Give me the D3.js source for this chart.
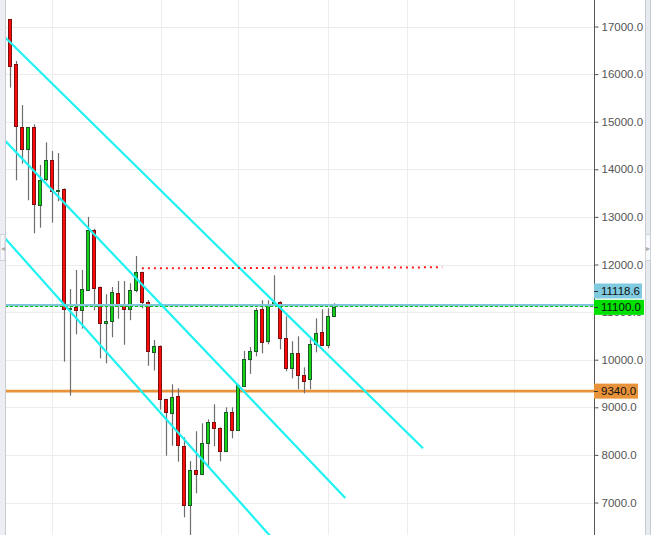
<!DOCTYPE html>
<html><head><meta charset="utf-8">
<script src="https://cdn.jsdelivr.net/npm/d3@7"></script>
<style>
html,body{margin:0;padding:0;background:#fff;}
svg{display:block;font-family:"Liberation Sans",Arial,sans-serif;}
</style></head>
<body>
<svg id="c" width="655" height="535"></svg>
<script>
// ---- data ----
const opens  = [17151,16206,14882,14420,14882,13244,13790,14189,13550,13580,11060,11101,11038,11460,12727,11521,10765,10807,11395,11143,11059,11458,11836,11206,10155,10281,9168,8874,9231,8181,6941,7676,7592,8244,8685,8559,8076,8895,8517,9441,10008,10176,11059,10387,11164,11206,10450,9819,10134,9672,9588,10324,10576,10303,10912];
const highs  = [17151,16275,15351,14882,14945,14090,14567,14384,14342,13600,11485,11885,11885,13000,12750,11540,11374,11527,11653,11653,11605,12178,11850,11254,10414,10300,9180,9483,9399,8370,7872,8496,8664,8748,9063,8580,9000,9000,9480,10183,10267,11086,11248,11248,11773,11227,10912,10387,10492,9840,10429,10870,11059,11080,11185];
const lows   = [15715,13769,14118,13349,12655,12773,13750,12878,13328,9958,9244,10534,10653,11460,11038,10029,9924,10471,10861,10315,10830,11416,11080,9874,9773,8950,7983,8193,7857,6689,6311,7193,7592,7740,8181,7866,8076,8349,8517,9441,9702,10071,10134,10324,11150,10218,9756,9609,9378,9294,9378,10155,10550,10240,10900];
const closes = [16177,14916,14420,14882,13265,13769,14189,13538,13570,11059,11080,11038,11479,12727,11500,10765,10813,11416,11143,11059,11458,11836,11206,10176,10281,9168,8895,9210,8202,6941,7676,7592,8244,8685,8559,8076,8895,8517,9462,10008,10176,11038,10366,11164,11206,10450,9819,10134,9672,9546,10324,10555,10303,10912,11101];

const yTicks = [7000,8000,9000,10000,11000,12000,13000,14000,15000,16000,17000];
const vGridIdx = [6.95,25.03,37.97,52.97,66.0,83.97];   // candle positions of the vertical grid lines

// channel lines: start/end as (candle index, price)
const trendX1 = [-1, -1, -1];
const trendP1 = [16783, 14613, 12565];
const trendX2 = [68.75, 55.8, 44.0];
const trendP2 = [8139, 7095, 6194];

// dotted resistance line
const dotX = [21.9, 71.97];
const dotP = [11920, 11941];

// price levels
const levelOrange = 9340.0;
const levelBlue = 11118.6;
const levelLast = 11100.0;

// ---- drawing ----
const svg = d3.select("#c");
const W = 655, H = 535;
const plotL = 5, plotR = 594;

const x = d3.scaleLinear().domain([0, 97]).range([10.5, 592.5]);
const y = d3.scaleLinear().domain([7000, 17000]).range([502.5, 26.5]);

svg.append("defs").append("clipPath").attr("id","clip")
  .append("rect").attr("x",plotL+1).attr("y",0).attr("width",plotR-plotL-1).attr("height",H);

const plot = svg.append("g").attr("clip-path","url(#clip)");

// grid
plot.selectAll("line.hg").data(yTicks).enter().append("line")
  .attr("x1",plotL).attr("x2",plotR)
  .attr("y1",d=>Math.round(y(d))+0.5).attr("y2",d=>Math.round(y(d))+0.5)
  .attr("stroke","#ececec").attr("stroke-width",1);
plot.selectAll("line.vg").data(vGridIdx).enter().append("line")
  .attr("x1",d=>Math.round(x(d))+0.5).attr("x2",d=>Math.round(x(d))+0.5)
  .attr("y1",0).attr("y2",H)
  .attr("stroke","#ececec").attr("stroke-width",1);

// orange level
plot.append("line").attr("x1",plotL).attr("x2",plotR)
  .attr("y1",y(levelOrange)).attr("y2",y(levelOrange))
  .attr("stroke","#e8923a").attr("stroke-width",2.7);

// candles
const idx = d3.range(opens.length);
const cg = plot.append("g");
cg.selectAll("line.wick").data(idx).enter().append("line")
  .attr("x1",i=>Math.floor(x(i))+0.5).attr("x2",i=>Math.floor(x(i))+0.5)
  .attr("y1",i=>y(highs[i])).attr("y2",i=>y(lows[i]))
  .attr("stroke","#6e6e6e").attr("stroke-width",1.2);
cg.selectAll("rect.body").data(idx).enter().append("rect")
  .attr("x",i=>Math.floor(x(i))-1.5)
  .attr("width",3)
  .attr("y",i=>Math.round(y(Math.max(opens[i],closes[i])))+0.5)
  .attr("height",i=>Math.max(1,Math.round(y(Math.min(opens[i],closes[i])))-Math.round(y(Math.max(opens[i],closes[i])))))
  .attr("fill",i=>closes[i]>=opens[i]?"#14d214":"#ff0a0a")
  .attr("stroke",i=>closes[i]>=opens[i]?"#1f5a2c":"#7a1010")
  .attr("stroke-width",1);

// blue and last price lines
plot.append("line").attr("x1",plotL).attr("x2",plotR)
  .attr("y1",y(levelBlue)-1.3).attr("y2",y(levelBlue)-1.3)
  .attr("stroke","#7fc6da").attr("stroke-width",2.5);
plot.append("line").attr("x1",plotL).attr("x2",plotR)
  .attr("y1",Math.round(y(levelLast))-0.5).attr("y2",Math.round(y(levelLast))-0.5)
  .attr("stroke","#00c800").attr("stroke-width",1).attr("stroke-dasharray","3,2");

// channel lines
plot.selectAll("line.tr").data(trendX1).enter().append("line")
  .attr("x1",(d,i)=>x(trendX1[i])).attr("y1",(d,i)=>y(trendP1[i]))
  .attr("x2",(d,i)=>x(trendX2[i])).attr("y2",(d,i)=>y(trendP2[i]))
  .attr("stroke","#1ef2f2").attr("stroke-width",2.2);

// dotted red line
plot.append("line")
  .attr("x1",x(dotX[0])).attr("y1",y(dotP[0]))
  .attr("x2",x(dotX[1])).attr("y2",y(dotP[1]))
  .attr("stroke","#ff1a1a").attr("stroke-width",2).attr("stroke-dasharray","2,4");

// axis
const axisG = svg.append("g").attr("transform",`translate(${plotR+0.5},0)`);
axisG.append("line").attr("x1",0).attr("x2",0).attr("y1",0).attr("y2",H)
  .attr("stroke","#555").attr("stroke-width",1);
const ax = d3.axisRight(y).tickValues(yTicks).tickFormat(d=>d3.format(".1f")(d)).tickSize(4).tickPadding(3);
const axG = axisG.append("g").call(ax);
axG.select(".domain").remove();
axG.selectAll(".tick line").attr("stroke","#555");
axG.selectAll(".tick text").attr("fill","#555").attr("font-size",11.5)
  .attr("font-family","'Liberation Sans',Arial,sans-serif");

// price labels
function label(v, yc, bg, w){
  const g = svg.append("g");
  g.append("rect").attr("x",plotR).attr("y",yc-7.5).attr("width",w).attr("height",15).attr("fill",bg);
  g.append("line").attr("x1",plotR).attr("x2",plotR+4).attr("y1",Math.round(yc)+0.5).attr("y2",Math.round(yc)+0.5).attr("stroke","#333");
  g.append("text").attr("x",plotR+7).attr("y",yc).attr("dy","0.36em")
    .attr("font-size",11.5).attr("fill","#111").text(d3.format(".1f")(v));
}
label(levelBlue, 291, "#80cadf", 48);
label(levelLast, y(levelLast), "#00e000", 50);
label(levelOrange, y(levelOrange), "#e8923a", 44);

// side scroll strips
svg.append("rect").attr("x",0).attr("y",0).attr("width",5).attr("height",H).attr("fill","#eceef4");
svg.append("line").attr("x1",5.5).attr("x2",5.5).attr("y1",0).attr("y2",H).attr("stroke","#c9cbd3");
svg.append("rect").attr("x",0).attr("y",234.5).attr("width",5).attr("height",26).attr("fill","#f6f7fa").attr("stroke","#cfd1d8");
svg.append("text").attr("x",1).attr("y",251).attr("font-size",8).attr("fill","#aaa").text("◂");

svg.append("rect").attr("x",645.5).attr("y",-1).attr("width",5).attr("height",H+2).attr("fill","#e8eaf1").attr("stroke","#c9cbd3");
svg.append("rect").attr("x",645.5).attr("y",234.5).attr("width",5).attr("height",26).attr("fill","#f8f9fb").attr("stroke","#cfd1d8");
svg.append("text").attr("x",646).attr("y",251).attr("font-size",8).attr("fill","#aaa").text("▸");
</script>
</body></html>
